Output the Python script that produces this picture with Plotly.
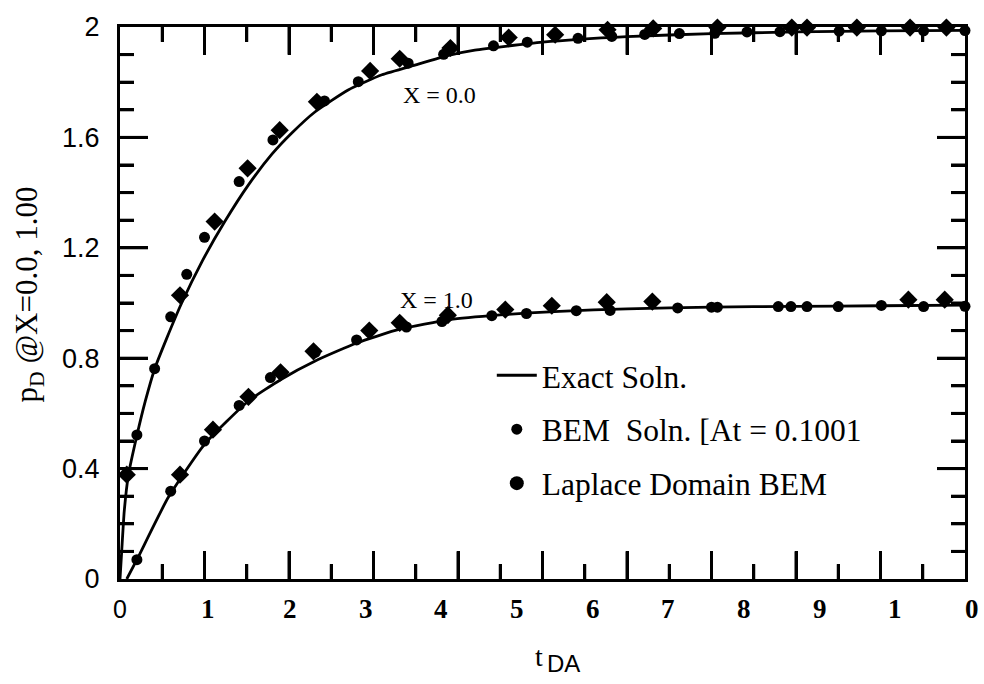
import plotly.graph_objects as go

# ---------------- data ----------------
EXACT_T_TOP = [0.0, 0.02, 0.05, 0.10, 0.20, 0.30, 0.41, 0.55, 0.73, 0.97, 1.24, 1.52, 1.80, 2.03, 2.31, 2.70, 3.10, 3.49, 3.89, 4.20, 5.0, 6.0, 7.0, 8.0, 9.0, 10.0]
EXACT_P_TOP = [0.0, 0.10, 0.245, 0.378, 0.52, 0.645, 0.761, 0.87, 1.0, 1.15, 1.295, 1.428, 1.54, 1.615, 1.693, 1.772, 1.827, 1.862, 1.897, 1.916, 1.945, 1.965, 1.976, 1.982, 1.986, 1.988]

EXACT_T_BOT = [0.08, 0.20, 0.57, 1.0, 1.52, 1.91, 2.31, 2.8, 3.31, 3.9, 4.5, 5.2, 6.0, 7.0, 8.0, 9.0, 10.0]
EXACT_P_BOT = [0.0, 0.07, 0.295, 0.488, 0.645, 0.724, 0.790, 0.855, 0.905, 0.940, 0.957, 0.970, 0.979, 0.985, 0.988, 0.990, 0.992]

BEM_T_TOP = [0.20, 0.41, 0.60, 0.79, 1.00, 1.41, 1.81, 2.42, 2.82, 3.41, 3.83, 4.42, 4.82, 5.42, 5.82, 6.21, 6.62, 7.04, 7.42, 7.81, 8.51, 9.01, 9.51, 10.0]
BEM_P_TOP = [0.522, 0.762, 0.950, 1.104, 1.238, 1.440, 1.591, 1.732, 1.802, 1.869, 1.901, 1.932, 1.945, 1.959, 1.966, 1.973, 1.976, 1.977, 1.982, 1.983, 1.985, 1.986, 1.986, 1.987]

BEM_T_BOT = [0.20, 0.60, 1.00, 1.41, 1.78, 2.31, 2.80, 3.39, 3.81, 4.40, 4.81, 5.40, 5.80, 6.60, 7.00, 7.07, 7.79, 7.94, 8.13, 8.50, 9.01, 9.51, 10.0]
BEM_P_BOT = [0.070, 0.318, 0.500, 0.629, 0.730, 0.821, 0.866, 0.913, 0.933, 0.954, 0.962, 0.972, 0.973, 0.982, 0.985, 0.985, 0.987, 0.987, 0.987, 0.987, 0.991, 0.987, 0.988]

LAP_T_TOP = [0.08, 0.71, 1.12, 1.51, 1.89, 2.33, 2.96, 3.31, 3.91, 4.60, 5.15, 5.77, 6.31, 7.07, 7.95, 8.13, 8.72, 9.35, 9.78]
LAP_P_TOP = [0.378, 1.028, 1.295, 1.488, 1.626, 1.729, 1.841, 1.885, 1.924, 1.962, 1.972, 1.990, 1.995, 1.998, 1.998, 1.998, 1.998, 1.998, 1.998]

LAP_T_BOT = [0.71, 1.10, 1.52, 1.90, 2.29, 2.95, 3.31, 3.88, 4.56, 5.11, 5.76, 6.30, 9.33, 9.76]
LAP_P_BOT = [0.378, 0.541, 0.660, 0.749, 0.825, 0.900, 0.928, 0.956, 0.976, 0.990, 1.003, 1.005, 1.012, 1.012]

X_TICK_LABELS = ["0", "1", "2", "3", "4", "5", "6", "7", "8", "9", "1", "0"]
X_TICK_LABEL_AT = [0.0, 1.04, 2.01, 2.91, 3.80, 4.70, 5.60, 6.49, 7.38, 8.28, 9.17, 10.08]
X_MAJOR_TICKS = [1, 2, 3, 4, 5, 6, 7, 8, 9]
X_MINOR_TICKS = [0.5, 1.5, 2.5, 3.5, 4.5, 5.5, 6.5, 7.5, 8.5, 9.5]
Y_TICK_VALUES = [0, 0.4, 0.8, 1.2, 1.6, 2.0]
Y_TICK_LABELS = ["0", "0.4", "0.8", "1.2", "1.6", "2"]
Y_MAJOR_TICKS = [0.4, 0.8, 1.2, 1.6]
Y_MINOR_TICKS = [0.1, 0.2, 0.3, 0.5, 0.6, 0.7, 0.9, 1.0, 1.1, 1.3, 1.4, 1.5, 1.7, 1.8, 1.9]
X_RANGE = [0, 10]
Y_RANGE = [0, 2]

LEGEND_NAMES = ["Exact Soln.", "BEM\u00a0 Soln. [At = 0.1001", "Laplace Domain BEM"]
CURVE_LABELS = ["X = 0.0", "X = 1.0"]
CURVE_LABEL_AT = [(3.78, 1.752), (3.75, 1.012)]

SERIF = "Liberation Serif, Times New Roman, serif"
SANS = "Liberation Sans, Arial, sans-serif"

W, H = 984, 684
M_L, M_R, M_T, M_B = 120, 19, 21, 105
PLOT_W = W - M_L - M_R
PLOT_H = H - M_T - M_B
X_PER_PX = (X_RANGE[1] - X_RANGE[0]) / PLOT_W
Y_PER_PX = (Y_RANGE[1] - Y_RANGE[0]) / PLOT_H
TICK_W = 3

fig = go.Figure()

# ---- inward tick marks as a line trace on the axis scales ----
tx, ty = [], []
def add_xtick(v, length_px):
    L = length_px * Y_PER_PX
    tx.extend([v, v, None, v, v, None])
    ty.extend([Y_RANGE[0], Y_RANGE[0] + L, None, Y_RANGE[1], Y_RANGE[1] - L, None])

def add_ytick(v, length_px):
    L = length_px * X_PER_PX
    tx.extend([X_RANGE[0], X_RANGE[0] + L, None, X_RANGE[1], X_RANGE[1] - L, None])
    ty.extend([v, v, None, v, v, None])

for v in X_MAJOR_TICKS:
    add_xtick(v, 28)
for v in X_MINOR_TICKS:
    add_xtick(v, 15)
for v in Y_MAJOR_TICKS:
    add_ytick(v, 28)
for v in Y_MINOR_TICKS:
    add_ytick(v, 14)

fig.add_trace(go.Scatter(x=tx, y=ty, mode="lines", line=dict(color="black", width=TICK_W),
                         connectgaps=False, showlegend=False, hoverinfo="skip"))

line_style = dict(color="black", width=2.8, shape="spline", smoothing=0.5)
fig.add_trace(go.Scatter(x=EXACT_T_TOP, y=EXACT_P_TOP, mode="lines", line=line_style,
                         name=LEGEND_NAMES[0], legendgroup="a", showlegend=True))
fig.add_trace(go.Scatter(x=EXACT_T_BOT, y=EXACT_P_BOT, mode="lines", line=line_style,
                         name=LEGEND_NAMES[0], legendgroup="a", showlegend=False))

circ = dict(symbol="circle", size=11, color="black")
fig.add_trace(go.Scatter(x=BEM_T_TOP, y=BEM_P_TOP, mode="markers", marker=circ, cliponaxis=False,
                         name=LEGEND_NAMES[1], legendgroup="b", showlegend=True))
fig.add_trace(go.Scatter(x=BEM_T_BOT, y=BEM_P_BOT, mode="markers", marker=circ, cliponaxis=False,
                         name=LEGEND_NAMES[1], legendgroup="b", showlegend=False))

dia = dict(symbol="diamond", size=14, color="black")
fig.add_trace(go.Scatter(x=LAP_T_TOP, y=LAP_P_TOP, mode="markers", marker=dia, cliponaxis=False,
                         name=LEGEND_NAMES[2], legendgroup="c", showlegend=False))
fig.add_trace(go.Scatter(x=LAP_T_BOT, y=LAP_P_BOT, mode="markers", marker=dia, cliponaxis=False,
                         name=LEGEND_NAMES[2], legendgroup="c", showlegend=False))
# legend entry (the reference shows an oval symbol for this series)
fig.add_trace(go.Scatter(x=[None], y=[None], mode="markers",
                         marker=dict(symbol="circle", size=14, color="black"),
                         name=LEGEND_NAMES[2], legendgroup="c", showlegend=True))

minor_x = dict(tickmode="array", tickvals=X_MINOR_TICKS, ticks="inside", ticklen=15,
               tickwidth=TICK_W, tickcolor="#000000")
minor_y = dict(tickmode="array", tickvals=Y_MINOR_TICKS, ticks="inside", ticklen=14,
               tickwidth=TICK_W, tickcolor="#000000")

annotations = []
for lab, xv in zip(X_TICK_LABELS, X_TICK_LABEL_AT):
    if xv == 0.0:
        fnt = dict(family=SANS, size=25, color="black")
        txt = lab
    else:
        fnt = dict(family=SERIF, size=27, color="black")
        txt = "<b>" + lab + "</b>"
    annotations.append(dict(x=(xv - X_RANGE[0]) / (X_RANGE[1] - X_RANGE[0]), y=-0.055,
                            xref="paper", yref="paper", text=txt, showarrow=False,
                            font=fnt, xanchor="center", yanchor="middle"))

for lab, (xv, yv) in zip(CURVE_LABELS, CURVE_LABEL_AT):
    annotations.append(dict(x=xv, y=yv, xref="x", yref="y", text=lab, showarrow=False,
                            font=dict(family=SERIF, size=24, color="black"),
                            xanchor="center", yanchor="middle"))

# axis titles
annotations.append(dict(x=-0.108, y=0.515, xref="paper", yref="paper", textangle=-90,
                        text="p<sub>D</sub> @X=0.0, 1.00", showarrow=False,
                        font=dict(family=SERIF, size=31, color="black"),
                        xanchor="center", yanchor="middle"))
annotations.append(dict(x=0.496, y=-0.14, xref="paper", yref="paper", text="t", showarrow=False,
                        font=dict(family=SERIF, size=28, color="black"), xanchor="center", yanchor="middle"))
annotations.append(dict(x=0.525, y=-0.153, xref="paper", yref="paper", text="DA", showarrow=False,
                        font=dict(family=SANS, size=24, color="black"), xanchor="center", yanchor="middle"))

fig.update_layout(
    width=W, height=H,
    margin=dict(l=M_L, r=M_R, t=M_T, b=M_B),
    paper_bgcolor="white", plot_bgcolor="white",
    showlegend=True,
    xaxis=dict(range=X_RANGE, showticklabels=False,
               tickmode="array", tickvals=X_MAJOR_TICKS,
               ticks="inside", ticklen=28, tickwidth=TICK_W, tickcolor="#000000",
               minor=minor_x,
               showline=True, linecolor="black", linewidth=3,
               mirror="allticks", showgrid=False, zeroline=False),
    yaxis=dict(range=Y_RANGE, tickmode="array", tickvals=Y_TICK_VALUES, ticktext=Y_TICK_LABELS,
               ticks="inside", ticklen=28, tickwidth=TICK_W, tickcolor="#000000",
               minor=minor_y,
               tickfont=dict(family=SANS, size=27, color="black"), ticklabelstandoff=12,
               showline=True, linecolor="black", linewidth=3,
               mirror="allticks", showgrid=False, zeroline=False),
    legend=dict(x=0.44, y=0.418, xanchor="left", yanchor="top", bgcolor="rgba(0,0,0,0)",
                font=dict(family=SERIF, size=31.5, color="black"), tracegroupgap=10,
                itemwidth=40),
    annotations=annotations,
)

fig.write_html("out.html")
